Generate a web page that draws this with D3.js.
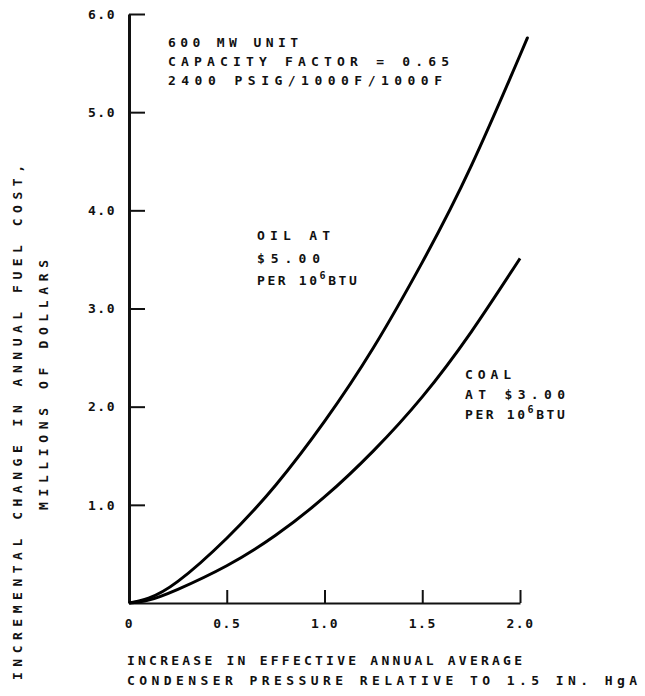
<!DOCTYPE html>
<html>
<head>
<meta charset="utf-8">
<title>Incremental fuel cost</title>
<script src="https://d3js.org/d3.v7.min.js"></script>
<style>
  body { margin: 0; background: #fff; }
  text { font-family: "DejaVu Sans Mono", monospace; font-weight: bold; fill: #111; }
</style>
</head>
<body>
<div id="grafico"></div>
<script>
// datos
const xTicks = [0, 0.5, 1.0, 1.5, 2.0];
const xTickLabels = ["0", "0.5", "1.0", "1.5", "2.0"];
const yTicks = [1, 2, 3, 4, 5, 6];
const yTickLabels = ["1.0", "2.0", "3.0", "4.0", "5.0", "6.0"];

const oilPressure = [0, 0.1, 0.25, 0.5, 0.75, 1.0, 1.25, 1.5, 1.75, 2.0, 2.03];
const oilCost     = [0, 0.05, 0.22, 0.66, 1.20, 1.85, 2.60, 3.47, 4.45, 5.58, 5.72];
const coalPressure = [0, 0.1, 0.25, 0.5, 0.75, 1.0, 1.25, 1.5, 1.75, 2.0];
const coalCost     = [0, 0.03, 0.14, 0.38, 0.69, 1.08, 1.55, 2.10, 2.76, 3.51];

const W = 645, H = 696;
const svg = d3.select('#grafico').append('svg')
  .attr('width', W).attr('height', H);

// escalas
const x = d3.scaleLinear().domain([0, 2]).range([129, 520]);
const y = d3.scaleLinear().domain([0, 6]).range([603, 14]);

// ejes
const yAxis = d3.axisLeft(y)
  .tickValues(yTicks)
  .tickFormat((d, i) => yTickLabels[i])
  .tickSizeInner(-16).tickSizeOuter(0).tickPadding(13);
const gy = svg.append('g').attr('transform', 'translate(' + x(0) + ',0)').call(yAxis);
gy.select('.domain').attr('stroke', '#111').attr('stroke-width', 3);
gy.selectAll('.tick line').attr('stroke', '#111').attr('stroke-width', 2);
gy.selectAll('.tick text').style('font-size', '13px').style('letter-spacing', '1.5px').attr('fill', '#111');

const xAxis = d3.axisBottom(x)
  .tickValues(xTicks)
  .tickFormat((d, i) => xTickLabels[i])
  .tickSizeInner(-13).tickSizeOuter(0).tickPadding(16);
const gx = svg.append('g').attr('transform', 'translate(0,' + y(0) + ')').call(xAxis);
gx.select('.domain').attr('stroke', '#111').attr('stroke-width', 2);
gx.selectAll('.tick line').attr('stroke', '#111').attr('stroke-width', 2);
gx.selectAll('.tick text').style('font-size', '13px').style('letter-spacing', '1.5px').attr('fill', '#111');

// curvas
const line = d3.line().x(d => x(d[0])).y(d => y(d[1])).curve(d3.curveNatural);
svg.append('path').datum(d3.zip(oilPressure, oilCost))
  .attr('d', line).attr('fill', 'none').attr('stroke', '#000').attr('stroke-width', 3);
svg.append('path').datum(d3.zip(coalPressure, coalCost))
  .attr('d', line).attr('fill', 'none').attr('stroke', '#000').attr('stroke-width', 3);

// textos
function label(txt, px, py, len) {
  const t = svg.append('text').attr('x', px).attr('y', py).style('font-size', '13px').text(txt);
  if (len) t.attr('textLength', len).attr('lengthAdjust', 'spacing');
  return t;
}
function perBtu(px, py) {
  const t = svg.append('text').attr('x', px).attr('y', py).style('font-size', '13px')
    .style('letter-spacing', '2.6px');
  t.append('tspan').text('PER 10');
  t.append('tspan').attr('dy', -6).style('font-size', '10px').text('6');
  t.append('tspan').attr('dy', 6).text('BTU');
}
label('600 MW UNIT', 168, 47, 130);
label('CAPACITY FACTOR = 0.65', 168, 66, 281);
label('2400 PSIG/1000F/1000F', 168, 85, 274);

label('OIL AT', 257, 240, 73);
label('$5.00', 257, 263, 63);
perBtu(257, 285);

label('COAL', 465, 379, 46);
label('AT $3.00', 465, 399, 100);
perBtu(465, 419);

label('INCREASE IN EFFECTIVE ANNUAL AVERAGE', 127, 665, 395);
label('CONDENSER PRESSURE RELATIVE TO 1.5 IN. HgA', 127, 685, 510);

svg.append('text').attr('transform', 'translate(22,680) rotate(-90)')
  .style('font-size', '13px').attr('textLength', 515).attr('lengthAdjust', 'spacing')
  .text('INCREMENTAL CHANGE IN ANNUAL FUEL COST,');
svg.append('text').attr('transform', 'translate(48,510) rotate(-90)')
  .style('font-size', '13px').attr('textLength', 250).attr('lengthAdjust', 'spacing')
  .text('MILLIONS OF DOLLARS');
</script>
</body>
</html>
